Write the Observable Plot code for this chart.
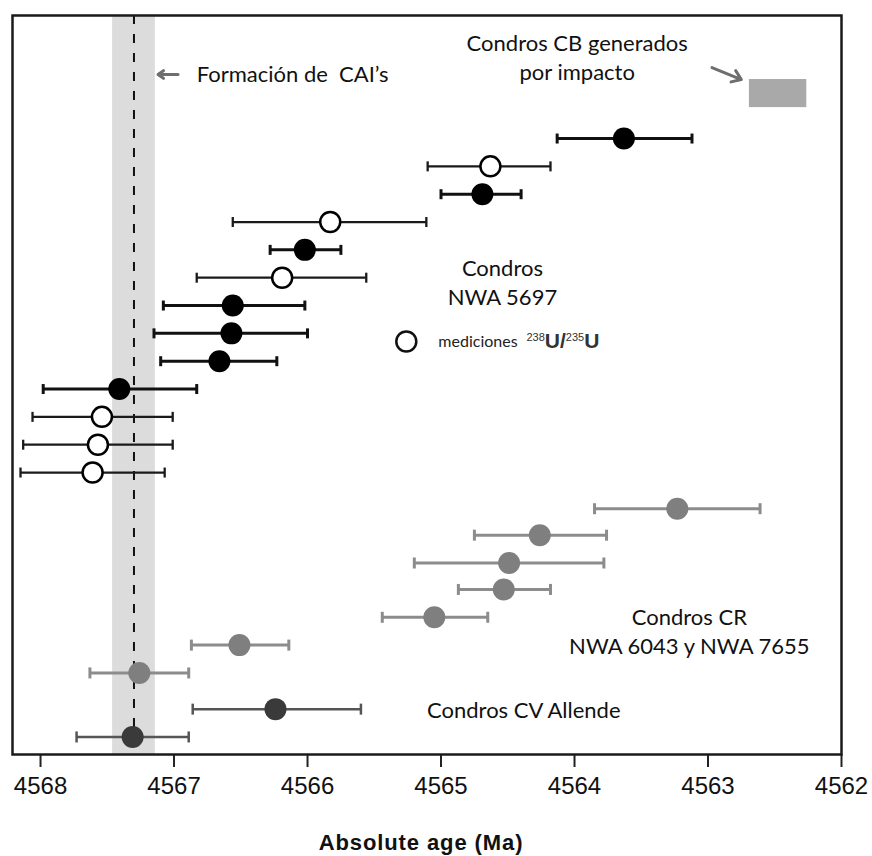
<!DOCTYPE html>
<html>
<head>
<meta charset="utf-8">
<script src="https://cdn.jsdelivr.net/npm/d3@7"></script>
<script src="https://cdn.jsdelivr.net/npm/@observablehq/plot@0.6"></script>
<style>
  body { margin: 0; background: #fff; }
  #chart svg { display: block; }
  #chart g[aria-label="x-axis tick label"] { font-family: "Liberation Sans", Arial, sans-serif; }
  #chart .axis-title { font-family: "Liberation Sans", Arial, sans-serif; letter-spacing: 0.9px; }
</style>
</head>
<body>
<div id="chart"></div>
<script>
// ---------- data (ages in Ma; "old" = left end of error bar, "young" = right end) ----------
// Chondrules NWA 5697 (filled = Pb-Pb with assumed U ratio, open = measured 238U/235U)
const nwaRow    = [1, 2, 3, 4, 5, 6, 7, 8, 9, 10, 11, 12, 13];
const nwaAge    = [4563.63, 4564.63, 4564.69, 4565.83, 4566.02, 4566.19, 4566.56, 4566.57, 4566.66, 4567.41, 4567.54, 4567.57, 4567.61];
const nwaOld    = [4564.13, 4565.10, 4565.00, 4566.56, 4566.28, 4566.83, 4567.08, 4567.15, 4567.10, 4567.98, 4568.06, 4568.13, 4568.15];
const nwaYoung  = [4563.12, 4564.18, 4564.40, 4565.11, 4565.75, 4565.56, 4566.02, 4566.00, 4566.23, 4566.83, 4567.01, 4567.01, 4567.07];
const nwaMethod = ["filled", "open", "filled", "open", "filled", "open", "filled", "filled", "filled", "filled", "open", "open", "open"];

// Chondrules CR (NWA 6043 and NWA 7655)
const crRow   = [14.3, 15.25, 16.25, 17.2, 18.2, 19.2, 20.2];
const crAge   = [4563.23, 4564.26, 4564.49, 4564.53, 4565.05, 4566.51, 4567.26];
const crOld   = [4563.85, 4564.75, 4565.20, 4564.87, 4565.44, 4566.87, 4567.63];
const crYoung = [4562.61, 4563.76, 4563.78, 4564.18, 4564.65, 4566.14, 4566.89];

// Chondrules CV Allende
const cvRow   = [21.5, 22.5];
const cvAge   = [4566.24, 4567.31];
const cvOld   = [4566.86, 4567.73];
const cvYoung = [4565.60, 4566.89];

// CAI formation (age and half-width of the uncertainty band)
const caiAge = 4567.30;
const caiErr = 0.16;

// CB impact chondrules (age range, vertical extent in row units)
const cbRange = [{old: 4562.69, young: 4562.26, top: -1.12, bottom: -0.11}];

// Axis ticks
const xTicks = [4568, 4567, 4566, 4565, 4564, 4563, 4562];

// Annotations (x in Ma, y in row units)
const labels = [
  {text: "Formación de  CAI’s", x: 4566.83, y: -1.30, anchor: "start"},
  {text: "Condros CB generados", x: 4563.98, y: -2.40, anchor: "middle"},
  {text: "por impacto", x: 4563.98, y: -1.37, anchor: "middle"},
  {text: "Condros", x: 4564.54, y: 5.67, anchor: "middle"},
  {text: "NWA 5697", x: 4564.54, y: 6.71, anchor: "middle"},
  {text: "Condros CR", x: 4563.14, y: 18.21, anchor: "middle"},
  {text: "NWA 6043 y NWA 7655", x: 4563.14, y: 19.25, anchor: "middle"},
  {text: "Condros CV Allende", x: 4564.38, y: 21.55, anchor: "middle"}
];
const arrows = [
  {x1: 4566.97, y1: -1.30, x2: 4567.12, y2: -1.30},
  {x1: 4562.97, y1: -1.55, x2: 4562.75, y2: -1.12}
];
const legendItem = [{x: 4565.26, y: 8.29, textX: 4565.02, ratioX: 4564.36, label: "mediciones", ratio: "238U/235U"}];

// ---------- tables ----------
const nwa = nwaRow.map((r, i) => ({row: r, age: nwaAge[i], old: nwaOld[i], young: nwaYoung[i], method: nwaMethod[i]}));
const cr = crRow.map((r, i) => ({row: r, age: crAge[i], old: crOld[i], young: crYoung[i]}));
const cv = cvRow.map((r, i) => ({row: r, age: cvAge[i], old: cvOld[i], young: cvYoung[i]}));
const caps = (t) => t.flatMap(d => [{row: d.row, x: d.old, method: d.method}, {row: d.row, x: d.young, method: d.method}]);

const capSymbol = {
  draw(ctx, size) {
    const r = Math.sqrt(size / Math.PI);
    ctx.moveTo(0, -r);
    ctx.lineTo(0, r);
  }
};

const filled = nwa.filter(d => d.method === "filled");
const open = nwa.filter(d => d.method === "open");

const chart = Plot.plot({
  width: 872,
  height: 856,
  marginLeft: 12,
  marginRight: 31,
  marginTop: 15,
  marginBottom: 102,
  style: {fontFamily: "Lato", background: "#fff", color: "#111"},
  x: {domain: [4568.21, 4562], axis: null},
  y: {domain: [23.13, -3.42], axis: null},
  marks: [
    // CAI band and line
    Plot.rect([caiAge], {x1: d => d + caiErr, x2: d => d - caiErr, fill: "#dcdcdc"}),
    Plot.ruleX([caiAge], {stroke: "#111", strokeWidth: 2, strokeDasharray: "9,10"}),
    // CB box
    Plot.rect(cbRange, {x1: "old", x2: "young", y1: "top", y2: "bottom", fill: "#a9a9a9"}),
    // error bars
    Plot.ruleY(filled, {y: "row", x1: "old", x2: "young", stroke: "#111", strokeWidth: 3}),
    Plot.ruleY(open, {y: "row", x1: "old", x2: "young", stroke: "#1a1a1a", strokeWidth: 2.3}),
    Plot.dot(caps(filled), {x: "x", y: "row", symbol: capSymbol, r: 5, stroke: "#111", strokeWidth: 3, fill: "none"}),
    Plot.dot(caps(open), {x: "x", y: "row", symbol: capSymbol, r: 5, stroke: "#1a1a1a", strokeWidth: 2.3, fill: "none"}),
    Plot.ruleY(cr, {y: "row", x1: "old", x2: "young", stroke: "#8c8c8c", strokeWidth: 3}),
    Plot.dot(caps(cr), {x: "x", y: "row", symbol: capSymbol, r: 5.5, stroke: "#8c8c8c", strokeWidth: 3, fill: "none"}),
    Plot.ruleY(cv, {y: "row", x1: "old", x2: "young", stroke: "#555", strokeWidth: 2.5}),
    Plot.dot(caps(cv), {x: "x", y: "row", symbol: capSymbol, r: 5.5, stroke: "#555", strokeWidth: 2.5, fill: "none"}),
    // points
    Plot.dot(filled, {x: "age", y: "row", r: 11, fill: "#000"}),
    Plot.dot(open, {x: "age", y: "row", r: 10, fill: "#fff", stroke: "#000", strokeWidth: 2.5}),
    Plot.dot(cr, {x: "age", y: "row", r: 11, fill: "#7f7f7f"}),
    Plot.dot(cv, {x: "age", y: "row", r: 11, fill: "#3a3a3a"}),
    // annotations
    Plot.arrow(arrows, {x1: "x1", y1: "y1", x2: "x2", y2: "y2", stroke: "#6e6e6e", strokeWidth: 3, headLength: 9, headAngle: 70}),
    Plot.text(labels, {filter: d => d.anchor === "start", x: "x", y: "y", text: "text", textAnchor: "start", lineAnchor: "middle", fontSize: 22, fontFamily: "Lato", fill: "#111"}),
    Plot.text(labels, {filter: d => d.anchor === "middle", x: "x", y: "y", text: "text", textAnchor: "middle", lineAnchor: "middle", fontSize: 22, fontFamily: "Lato", fill: "#111"}),
    // legend
    Plot.dot(legendItem, {x: "x", y: "y", r: 10, fill: "#fff", stroke: "#111", strokeWidth: 2.5}),
    Plot.text(legendItem, {x: "textX", y: "y", text: "label", textAnchor: "start", lineAnchor: "middle", fontSize: 16, fontFamily: "Lato", fill: "#222"}),
    Plot.text(legendItem, {x: "ratioX", y: "y", text: "ratio", textAnchor: "start", lineAnchor: "middle", fontSize: 21, fontFamily: "Liberation Sans", fill: "#333"}),
    // axis
    Plot.axisX({ticks: xTicks, tickFormat: d => String(d), tickSize: 13, tickPadding: 9, fontSize: 24, fontFamily: "Liberation Sans", stroke: "#222", strokeWidth: 2, label: null}),
    Plot.text(["Absolute age (Ma)"], {frameAnchor: "bottom", dy: 88, dx: -6, lineAnchor: "middle", fontSize: 22, fontWeight: "bold", fontFamily: "Liberation Sans", fill: "#111", className: "axis-title"}),
    Plot.frame({stroke: "#1a1a1a", strokeWidth: 2.5})
  ]
});

document.getElementById("chart").append(chart);

// Superscripts in the isotope ratio label
chart.querySelectorAll("text").forEach(t => {
  if (t.textContent === "238U/235U") {
    t.textContent = "";
    const parts = [["238", true], ["U/", false], ["235", true], ["U", false]];
    for (const [s, sup] of parts) {
      const ts = document.createElementNS("http://www.w3.org/2000/svg", "tspan");
      ts.textContent = s;
      if (sup) {
        ts.setAttribute("font-size", "11");
        ts.setAttribute("dy", "-7");
      } else {
        ts.setAttribute("font-size", "21");
        ts.setAttribute("font-weight", "bold");
        ts.setAttribute("dy", "7");
      }
      t.append(ts);
    }
    t.setAttribute("dy", "0.32em");
  }
});
</script>
</body>
</html>
